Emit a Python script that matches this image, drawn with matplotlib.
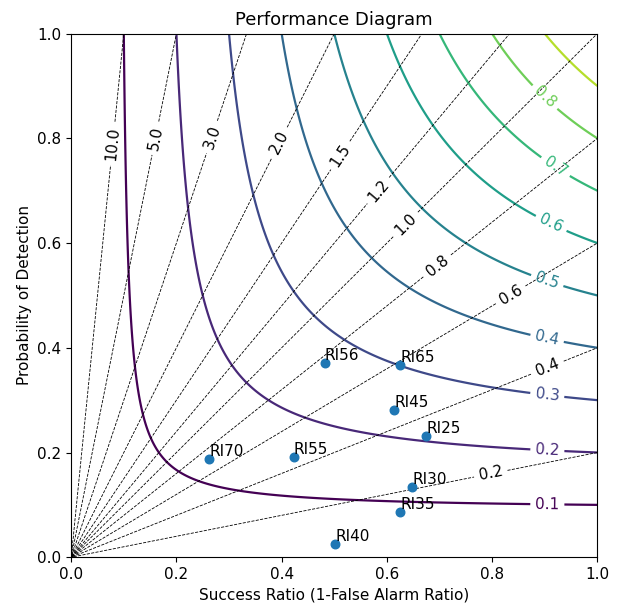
import matplotlib
matplotlib.use("Agg")
import matplotlib.pyplot as plt
import numpy as np

# verification points (success ratio, probability of detection)
NAMES = ["RI25", "RI30", "RI35", "RI40", "RI45", "RI55", "RI56", "RI65", "RI70"]
SR = [0.675, 0.648, 0.625, 0.502, 0.614, 0.423, 0.482, 0.625, 0.262]
POD = [0.231, 0.135, 0.086, 0.025, 0.282, 0.191, 0.370, 0.368, 0.188]

CSI_LEVELS = [0.1, 0.2, 0.3, 0.4, 0.5, 0.6, 0.7, 0.8, 0.9, 1.0]
BIAS_LEVELS = [0.2, 0.4, 0.6, 0.8, 1.0, 1.2, 1.5, 2.0, 3.0, 5.0, 10.0]

# label anchor spots (nearest point on each contour is used)
CSI_LABEL_POS = [(0.905, 0.103), (0.905, 0.204), (0.905, 0.311), (0.905, 0.42),
                 (0.905, 0.529), (0.913, 0.639), (0.92, 0.745), (0.897, 0.875)]
BIAS_LABEL_POS = [(0.797, 0.162), (0.905, 0.365), (0.835, 0.502), (0.698, 0.555),
                  (0.633, 0.639), (0.584, 0.70), (0.515, 0.765), (0.40, 0.79),
                  (0.275, 0.80), (0.161, 0.80), (0.081, 0.79)]

plt.rcParams["font.size"] = 11

fig = plt.figure(figsize=(6.19, 6.11), dpi=100)
ax = fig.add_axes([0.115, 0.088, 0.85, 0.857])

g = np.linspace(0.001, 1.0, 500)
sr_g, pod_g = np.meshgrid(g, g)
csi = 1.0 / (1.0 / sr_g + 1.0 / pod_g - 1.0)
bias = pod_g / sr_g

cs = ax.contour(sr_g, pod_g, csi, levels=CSI_LEVELS, cmap="viridis", linewidths=1.6)
ax.clabel(cs, fmt="%1.1f", fontsize=11, manual=CSI_LABEL_POS, inline=True)

bs = ax.contour(sr_g, pod_g, bias, levels=BIAS_LEVELS, colors="k",
                linestyles="dashed", linewidths=0.6)
ax.clabel(bs, fmt="%1.1f", fontsize=11, manual=BIAS_LABEL_POS, inline=True)

ax.scatter(SR, POD, s=38, color="#1f77b4", zorder=5)
for name, x, y in zip(NAMES, SR, POD):
    ax.text(x, y, name, fontsize=11, ha="left", va="bottom", zorder=6)

ax.set_xlim(0, 1)
ax.set_ylim(0, 1)
ax.set_xlabel("Success Ratio (1-False Alarm Ratio)")
ax.set_ylabel("Probability of Detection")
ax.set_title("Performance Diagram", fontsize=13)

fig.savefig("out.png", dpi=100)
